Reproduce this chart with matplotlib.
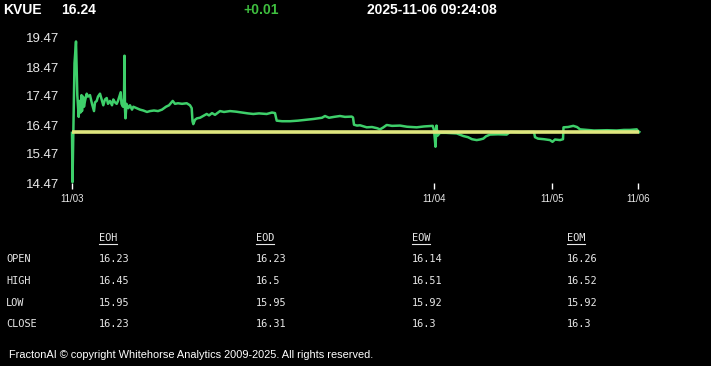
import matplotlib
matplotlib.use("Agg")
import matplotlib.pyplot as plt
from matplotlib.lines import Line2D

# header
symbol = "KVUE"
last_price = "16.24"
change = "+0.01"
stamp = "2025-11-06 09:24:08"

# price trace, x = sample position along the session axis
xs = [0, 0.5, 1.5, 2.5, 4, 4.8, 5.3, 6.7, 7.5, 8.5, 9.5, 10, 11, 12, 13, 14.7, 16, 18,
      20, 22, 23, 24.7, 26, 28, 30, 31.3, 33, 34.7, 36, 38, 40, 41.3, 43, 44.7, 46,
      48.7, 49.5, 51, 52, 52.5, 53, 53.5, 54.5, 56.3, 58, 60, 61.3, 64.7, 68, 71.3,
      75, 78, 82, 86, 90, 94, 97, 100.7, 103, 106, 110, 114.7, 118, 119.7, 120.5,
      121.3, 123, 125, 128, 131, 134.7, 137, 140, 143, 148, 152, 158, 164, 170, 176,
      181.3, 187, 194.7, 200, 203, 204.7, 210, 218, 226, 234, 242, 250, 253, 257,
      262, 268, 273, 279.7, 281, 282, 285, 288, 294.7, 300, 305, 308, 311, 314.7,
      320, 328, 335, 344.7, 352, 360.7, 362, 363.5, 364.5, 365.5, 368, 374, 384.7,
      391.3, 396, 400, 404.7, 408, 411.3, 414, 418, 426, 434.7, 438, 450, 462, 463,
      466, 472, 478, 480.5, 483, 488, 491, 491.5, 496, 501.3, 505, 508, 515, 522,
      535, 544.7, 552, 558, 564.7, 566, 567.3]
prices = [16.2, 14.5, 16.5, 18.6, 19.35, 18.2, 17.5, 16.75, 17.3, 16.9, 17.5, 16.95,
          17.45, 17.1, 17.3, 17.55, 17.45, 17.5, 17.2, 16.95, 17.25, 17.3, 17.45,
          17.55, 17.3, 17.15, 17.35, 17.4, 17.2, 17.3, 17.15, 17.35, 17.25, 17.2,
          17.3, 17.6, 17.2, 17.1, 17.4, 18.86, 17.0, 16.7, 17.2, 17.05, 17.15, 17.0,
          17.1, 17.05, 17.0, 16.97, 16.92, 16.95, 16.97, 16.95, 17.0, 17.1, 17.15,
          17.3, 17.2, 17.22, 17.2, 17.22, 17.15, 17.05, 16.6, 16.5, 16.65, 16.7,
          16.72, 16.78, 16.85, 16.8, 16.88, 16.82, 16.95, 16.92, 16.95, 16.93, 16.9,
          16.87, 16.85, 16.87, 16.85, 16.9, 16.88, 16.62, 16.6, 16.6, 16.62, 16.65,
          16.68, 16.72, 16.78, 16.72, 16.75, 16.78, 16.75, 16.76, 16.73, 16.48,
          16.45, 16.46, 16.39, 16.4, 16.36, 16.32, 16.38, 16.47, 16.44, 16.45, 16.41,
          16.39, 16.42, 16.44, 16.3, 15.72, 16.45, 16.1, 16.2, 16.2, 16.18, 16.09,
          16.05, 15.98, 15.95, 15.97, 16.0, 16.08, 16.14, 16.15, 16.14, 16.23, 16.22,
          16.23, 16.05, 16.0, 15.98, 15.95, 15.89, 15.97, 15.95, 15.98, 16.39, 16.4,
          16.44, 16.4, 16.32, 16.3, 16.28, 16.29, 16.28, 16.3, 16.3, 16.32, 16.26,
          16.23]
ref_price = 16.23

y_ticks = [14.47, 15.47, 16.47, 17.47, 18.47, 19.47]
day_pos = [0, 362, 480, 566]
day_labels = ["11/03", "11/04", "11/05", "11/06"]

# summary table
cols = ["EOH", "EOD", "EOW", "EOM"]
rows = ["OPEN", "HIGH", "LOW", "CLOSE"]
table = [["16.23", "16.23", "16.14", "16.26"],
         ["16.45", "16.5", "16.51", "16.52"],
         ["15.95", "15.95", "15.92", "15.92"],
         ["16.23", "16.31", "16.3", "16.3"]]

W, H = 711, 366
fig = plt.figure(figsize=(W / 100, H / 100), dpi=100, facecolor="black")

# chart area: x 72..639 px, y 38..183 px
ax = fig.add_axes([72 / W, 1 - 183 / H, 567 / W, 145 / H])
ax.set_facecolor("black")
ax.plot(xs, prices, color="#3ecf6a", lw=1.8, clip_on=False, zorder=2)
ax.axhline(ref_price, color="#dfe67e", lw=2.6, zorder=3)
ax.set_xlim(0, 567)
ax.set_ylim(y_ticks[0], y_ticks[-1])
for s in ax.spines.values():
    s.set_visible(False)
ax.set_yticks(y_ticks)
ax.set_yticklabels([f"{v:.2f}" for v in y_ticks])
ax.tick_params(axis="y", length=0, pad=9, labelsize=9.5, labelcolor="#e8e8e8")
ax.set_xticks(day_pos)
ax.set_xticklabels(day_labels)
ax.tick_params(axis="x", length=4, width=1, color="white", pad=4,
               labelsize=7, labelcolor="#e8e8e8")
for lab in ax.get_yticklabels() + ax.get_xticklabels():
    lab.set_family("Liberation Sans")

def px(x, y):
    return x / W, 1 - y / H

hdr = dict(color="white", fontsize=10, fontweight="bold", family="Liberation Sans",
           va="center", ha="left")
fig.text(*px(3, 10), symbol, **hdr)
fig.text(*px(61, 10), last_price, **hdr)
fig.text(*px(243, 10), change, **{**hdr, "color": "#3fbf3f"})
fig.text(*px(367, 10), stamp, **hdr)

mono = dict(color="#e8e8e8", fontsize=7.4, family="DejaVu Sans Mono",
            va="center", ha="left")
col_x = [99, 256, 412, 567]
row_y = [259, 281, 303, 324]
hdr_texts = []
for cx, c in zip(col_x, cols):
    hdr_texts.append(fig.text(*px(cx, 238), c, **mono))
for ry, r, vals in zip(row_y, rows, table):
    fig.text(*px(6, ry), r, **mono)
    for cx, v in zip(col_x, vals):
        fig.text(*px(cx, ry), v, **mono)

# underline column headers
fig.canvas.draw()
inv = fig.transFigure.inverted()
for t in hdr_texts:
    bb = t.get_window_extent().transformed(inv)
    yl = 1 - 243.5 / H
    fig.add_artist(Line2D([bb.x0, bb.x1], [yl, yl], transform=fig.transFigure,
                          color="#e8e8e8", lw=0.8))

fig.text(*px(9, 355), "FractonAI \u00a9 copyright Whitehorse Analytics 2009-2025. All rights reserved.",
         color="white", fontsize=7.9, family="Liberation Sans", va="center", ha="left")

fig.savefig("out.png", dpi=100, facecolor="black")
